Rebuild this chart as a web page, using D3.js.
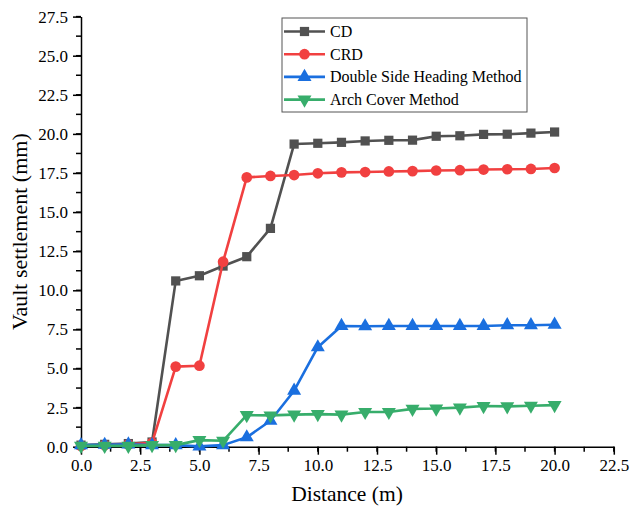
<!DOCTYPE html>
<html>
<head>
<meta charset="utf-8">
<script src="https://cdn.jsdelivr.net/npm/d3@7"></script>
<style>
html,body{margin:0;padding:0;background:#fff;}
svg text{font-family:"Liberation Serif","Times New Roman",serif;fill:#000;}
</style>
</head>
<body>
<svg id="chart" width="630" height="506"></svg>
<script>
const distance = [0,1,2,3,4,5,6,7,8,9,10,11,12,13,14,15,16,17,18,19,20];
const cdValues = [0.1,0.15,0.2,0.3,10.6,10.93,11.55,12.15,13.96,19.35,19.4,19.46,19.55,19.59,19.6,19.85,19.88,19.97,19.98,20.05,20.12];
const crdValues = [0.05,0.1,0.15,0.25,5.12,5.18,11.83,17.22,17.31,17.37,17.48,17.54,17.56,17.6,17.62,17.66,17.68,17.72,17.74,17.76,17.82];
const dshValues = [0.1,0.12,0.15,0.1,0.1,0.02,0.1,0.6,1.66,3.58,6.36,7.72,7.7,7.72,7.72,7.72,7.72,7.72,7.77,7.77,7.8];
const acmValues = [0.05,0.05,0.05,0.1,0.1,0.42,0.38,2.02,2.0,2.05,2.08,2.05,2.22,2.22,2.42,2.44,2.5,2.6,2.58,2.62,2.66];
const seriesNames = ["CD","CRD","Double Side Heading Method","Arch Cover Method"];
const xTicks = [0,2.5,5,7.5,10,12.5,15,17.5,20,22.5];
const yTicks = [0,2.5,5,7.5,10,12.5,15,17.5,20,22.5,25,27.5];

const colors = ["#515151","#F14040","#1A6FDF","#37AD6B"];
const symbols = [d3.symbolSquare, d3.symbolCircle, d3.symbolTriangle, d3.symbolTriangle];
const symSizes = [85, 90, 85, 85];
const rotations = [0,0,0,180];
const allValues = [cdValues, crdValues, dshValues, acmValues];
const serif = "'Liberation Serif','Times New Roman',serif";

const svg = d3.select("#chart");
const x = d3.scaleLinear().domain([0,22.5]).range([81,613.8]);
const y = d3.scaleLinear().domain([0,27.5]).range([446.7,16.6]);

const xMinor = d3.range(0,22.5001,1.25);
const yMinor = d3.range(0,27.5001,1.25);

const gx = svg.append("g").attr("transform","translate(0,"+y(0)+")");
gx.selectAll("line.minor").data(xMinor).join("line")
  .attr("x1",d=>x(d)).attr("x2",d=>x(d)).attr("y1",0).attr("y2",5)
  .attr("stroke","#000").attr("stroke-width",1.5);
gx.call(d3.axisBottom(x).tickValues(xTicks).tickFormat(d3.format(".1f")).tickSize(8).tickSizeOuter(0).tickPadding(4))
  .attr("font-family",serif).attr("font-size",17)
  .call(g=>g.select(".domain").attr("stroke-width",1.5))
  .call(g=>g.selectAll(".tick line").attr("stroke-width",1.5));

const gy = svg.append("g").attr("transform","translate("+x(0)+",0)");
gy.selectAll("line.minor").data(yMinor).join("line")
  .attr("y1",d=>y(d)).attr("y2",d=>y(d)).attr("x1",0).attr("x2",-5)
  .attr("stroke","#000").attr("stroke-width",1.5);
gy.call(d3.axisLeft(y).tickValues(yTicks).tickFormat(d3.format(".1f")).tickSize(8).tickSizeOuter(0).tickPadding(5))
  .attr("font-family",serif).attr("font-size",17)
  .call(g=>g.select(".domain").attr("stroke-width",1.5))
  .call(g=>g.selectAll(".tick line").attr("stroke-width",1.5));

svg.append("text").attr("x",347).attr("y",501).attr("text-anchor","middle")
  .attr("font-family",serif).attr("font-size",21.5).text("Distance (m)");
svg.append("text").attr("transform","translate(27,"+((y(0)+y(27.5))/2)+") rotate(-90)")
  .attr("text-anchor","middle").attr("font-family",serif).attr("font-size",22).text("Vault settlement (mm)");

const line = d3.line().x((d,i)=>x(distance[i])).y(d=>y(d));
allValues.forEach((vals,k)=>{
  const g = svg.append("g");
  g.append("path").datum(vals).attr("d",line).attr("fill","none")
    .attr("stroke",colors[k]).attr("stroke-width",2.6).attr("stroke-linejoin","round");
  g.selectAll("path.m").data(vals).join("path").attr("class","m")
    .attr("d",d3.symbol().type(symbols[k]).size(symSizes[k]))
    .attr("transform",(d,i)=>"translate("+x(distance[i])+","+y(d)+") rotate("+rotations[k]+")")
    .attr("fill",colors[k]);
});

const lg = svg.append("g");
lg.append("rect").attr("x",282).attr("y",18).attr("width",245).attr("height",94)
  .attr("fill","#fff").attr("stroke","#555").attr("stroke-width",1);
seriesNames.forEach((name,k)=>{
  const ly = 31.5 + k*22.7;
  lg.append("line").attr("x1",284).attr("x2",325).attr("y1",ly).attr("y2",ly)
    .attr("stroke",colors[k]).attr("stroke-width",2.6);
  lg.append("path").attr("d",d3.symbol().type(symbols[k]).size(symSizes[k]))
    .attr("transform","translate(304.5,"+ly+") rotate("+rotations[k]+")").attr("fill",colors[k]);
  lg.append("text").attr("x",330).attr("y",ly+5.5).attr("font-family",serif).attr("font-size",16).text(name);
});
</script>
</body>
</html>
